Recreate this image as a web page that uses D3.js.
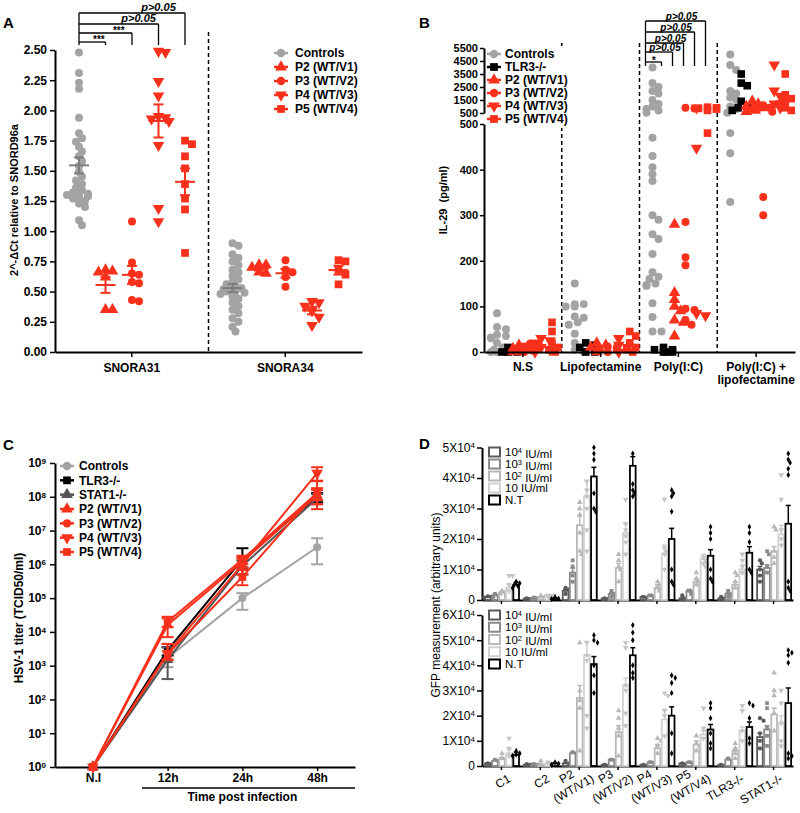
<!DOCTYPE html>
<html><head><meta charset="utf-8">
<script src="https://cdn.jsdelivr.net/npm/d3@7/dist/d3.min.js"></script>
<style>
html,body{margin:0;padding:0;background:#fff;}
svg text{font-family:"Liberation Sans",Arial,Helvetica,sans-serif;fill:#000;}
</style></head><body>
<svg id="fig" width="800" height="813"></svg>
<script>
// ================= Panel A data =================
const aCategories = ["SNORA31", "SNORA34"];
const aGroups = ["Controls", "P2 (WT/V1)", "P3 (WT/V2)", "P4 (WT/V3)", "P5 (WT/V4)"];
const aTicks = [0, 0.25, 0.5, 0.75, 1.0, 1.25, 1.5, 1.75, 2.0, 2.25, 2.5];
const aSNORA31 = [
  [2.48,2.31,2.23,2.18,1.94,1.81,1.77,1.74,1.70,1.66,1.62,1.58,1.54,1.49,1.45,1.42,1.39,1.36,1.34,1.32,1.31,1.30,1.30,1.29,1.28,1.27,1.25,1.23,1.20,1.09,1.05],
  [0.68,0.67,0.66,0.62,0.35,0.35],
  [1.08,0.74,0.65,0.64,0.58,0.57,0.43,0.42],
  [2.49,2.48,2.24,2.12,1.95,1.94,1.93,1.91,1.71,1.19,1.08],
  [1.75,1.72,1.62,1.52,1.39,1.27,1.18,0.82]
];
const aSNORA34 = [
  [0.90,0.88,0.81,0.78,0.75,0.72,0.68,0.66,0.63,0.60,0.58,0.56,0.54,0.53,0.52,0.52,0.51,0.50,0.50,0.49,0.48,0.46,0.44,0.41,0.38,0.35,0.32,0.28,0.25,0.21,0.17],
  [0.72,0.72,0.70,0.66,0.65],
  [0.76,0.68,0.66,0.62,0.54],
  [0.42,0.41,0.38,0.34,0.29,0.22],
  [0.76,0.75,0.68,0.64,0.56]
];
const aSigLabels = ["***", "***", "p>0.05", "p>0.05"];

// ================= Panel B data (pg/ml) =================
const bCategories = ["N.S", "Lipofectamine", "Poly(I:C)", "Poly(I:C) + lipofectamine"];
const bGroups = ["Controls", "TLR3-/-", "P2 (WT/V1)", "P3 (WT/V2)", "P4 (WT/V3)", "P5 (WT/V4)"];
const bTicksLow = [0, 100, 200, 300, 400, 500];
const bTicksHigh = [500, 1500, 2500, 3500, 4500, 5500];
const bNS = [
  [85,55,50,38,35,32,30,20,10,5,0,0,0],
  [0,0,5,10,0],
  [0,5,8,10,15,0,2],
  [0,5,10,12,15,18,3],
  [0,5,10,20,30,25],
  [65,45,20,10,5,0]
];
const bLipo = [
  [150,105,105,100,100,78,75,65,60,40,20,5,0],
  [0,10,20,15,0],
  [0,5,10,15,20],
  [0,5,8,10,12],
  [0,10,30,15],
  [45,35,20,10,5,0]
];
const bPolyIC = [
  [4000,2800,2500,2200,2000,1500,1200,1000,800,700,520,470,430,405,390,375,300,290,258,248,215,175,165,160,150,147,145,107,77,45,45],
  [0,0,5,10,5,0],
  [280,130,115,100,90,70,65,35],
  [285,208,190,95,92,70,60,900,850],
  [900,447,80,85],
  [950,900,850,800,700,480]
];
const bPolyICLipo = [
  [5000,4200,3800,2200,2000,1700,1500,1000,800,520,480,436,329],
  [3500,2800,2600,1400,1000,900,700],
  [1400,1200,1000,900,800,700,600],
  [1100,900,800,600,340,300],
  [4200,2200,1800,1200,900],
  [3500,1900,1600,1400,1200,900,700]
];
const bSigLabels = ["*", "p>0.05", "p>0.05", "p>0.05", "p>0.05"];

// ================= Panel C data (TCID50/ml) =================
const cCategories = ["N.I", "12h", "24h", "48h"];
const cSeries = ["Controls", "TLR3-/-", "STAT1-/-", "P2 (WT/V1)", "P3 (WT/V2)", "P4 (WT/V3)", "P5 (WT/V4)"];
const cMean = [
  [1, 1.7e3, 1.0e5, 3.2e6],
  [1, 2.9e3, 1.4e6, 1.0e8],
  [1, 1.5e3, 9.0e5, 9.0e7],
  [1, 1.6e4, 1.2e6, 1.1e8],
  [1, 2.0e4, 1.4e6, 1.3e8],
  [1, 2.3e3, 1.0e6, 5.0e8],
  [1, 2.2e3, 4.2e5, 1.4e8]
];
const cLow = [
  [1, 9e2, 4.5e4, 1.0e6],
  [1, 2.0e3, 8e5, 7e7],
  [1, 4e2, 5e5, 6e7],
  [1, 7e3, 8e5, 6e7],
  [1, 1.4e4, 1.0e6, 8e7],
  [1, 1.5e3, 5e5, 3e8],
  [1, 1.5e3, 2.4e5, 4.3e7]
];
const cHigh = [
  [1, 2.5e3, 1.4e5, 5.9e6],
  [1, 3.5e3, 3.0e6, 1.3e8],
  [1, 3.5e3, 1.3e6, 1.2e8],
  [1, 2.5e4, 1.6e6, 1.6e8],
  [1, 2.8e4, 1.8e6, 1.8e8],
  [1, 4.4e3, 1.5e6, 7.5e8],
  [1, 4.4e3, 6.8e5, 2.9e8]
];
const cTicks = [1, 1e1, 1e2, 1e3, 1e4, 1e5, 1e6, 1e7, 1e8, 1e9];

// ================= Panel D data (values in units of 10^4) =================
const dGroups = ["C1", "C2", "P2 (WT/V1)", "P3 (WT/V2)", "P4 (WT/V3)", "P5 (WT/V4)", "TLR3-/-", "STAT1-/-"];
const dConcs = ["10^4 IU/ml", "10^3 IU/ml", "10^2 IU/ml", "10 IU/ml", "N.T"];
const dTopTicks = [0, 1, 2, 3, 4, 5];
const dBotTicks = [0, 1, 2, 3, 4, 5, 6];
const dTopMean = [
  [0.10,0.15,0.25,0.40,0.50],
  [0.05,0.07,0.08,0.10,0.05],
  [0.30,0.90,2.45,3.40,4.05],
  [0.05,0.20,1.05,2.20,4.40],
  [0.10,0.15,0.40,1.50,2.00],
  [0.05,0.30,0.60,1.35,1.45],
  [0.05,0.20,0.50,1.00,1.55],
  [1.00,1.05,1.60,2.15,2.50]
];
const dTopSem = [
  [0.02,0.03,0.05,0.10,0.08],
  [0.01,0.01,0.02,0.03,0.02],
  [0.05,0.15,0.30,0.50,0.30],
  [0.01,0.05,0.15,0.30,0.30],
  [0.02,0.03,0.10,0.30,0.35],
  [0.02,0.05,0.10,0.15,0.20],
  [0.02,0.05,0.10,0.15,0.20],
  [0.10,0.10,0.15,0.30,0.60]
];
const dTopPts = [
  [[0.1,0.12,0.08],[0.15,0.2,0.1],[0.3,0.25,0.2],[0.8,0.8,0.5,0.3],[0.6,0.55,0.5,0.45,0.4]],
  [[0.05,0.03],[0.08,0.06],[0.1,0.15],[0.15,0.15,0.05],[0.1,0.05,0.03]],
  [[0.4,0.35,0.2],[1.3,1.1,0.8,0.6],[3.2,3.0,2.8,2.2,1.6,1.5],[3.9,3.6,3.4,3.0,2.3,1.6],[5.0,4.8,4.6,3.5,3.0,2.9]],
  [[0.05,0.03],[0.3,0.2,0.1],[1.5,1.3,1.1,1.0,0.6],[3.3,2.5,2.3,2.1,1.9,1.5],[4.8,3.8,3.6,3.5,3.4]],
  [[0.1,0.05],[0.15,0.1],[0.6,0.5,0.4,0.3],[3.3,1.7,1.6,1.5,1.0],[3.6,3.5,3.4,2.9,1.0,0.6,0.5]],
  [[0.15,0.05],[0.3,0.2],[0.9,0.7,0.6,0.5],[1.4,1.3,1.2,1.1],[2.4,2.2,2.0,1.0,0.7,0.6]],
  [[0.1,0.05],[0.3,0.2,0.1],[0.9,0.8,0.6,0.4],[1.5,1.3,1.1,0.9],[2.4,2.2,1.9,1.0,0.9]],
  [[1.3,1.2,1.0,0.8,0.6],[1.6,1.5,1.1,0.9],[2.4,2.3,1.6,1.4,1.2],[4.1,3.3,2.3,2.0,1.8],[4.8,4.6,4.5,4.3,4.1,0.6,0.4,0.3]]
];
const dBotMean = [
  [0.10,0.20,0.30,0.50,0.45],
  [0.05,0.05,0.05,0.10,0.10],
  [0.10,0.50,2.70,4.40,4.05],
  [0.05,0.25,1.35,3.20,4.40],
  [0.05,0.15,0.70,1.85,2.00],
  [0.10,0.15,0.85,1.25,1.45],
  [0.05,0.25,0.60,1.40,1.55],
  [1.15,1.45,2.05,1.70,2.50]
];
const dBotSem = [
  [0.02,0.03,0.05,0.15,0.10],
  [0.01,0.01,0.02,0.03,0.02],
  [0.03,0.05,0.50,0.55,0.30],
  [0.01,0.03,0.25,0.30,0.30],
  [0.01,0.03,0.15,0.40,0.35],
  [0.02,0.03,0.15,0.15,0.20],
  [0.01,0.05,0.10,0.15,0.20],
  [0.15,0.15,0.25,0.30,0.60]
];
const dBotPts = [
  [[0.1,0.08],[0.2,0.25],[0.3,0.5],[1.1,0.7,0.4],[0.6,0.5,0.45,0.4]],
  [[0.05,0.08],[0.05,0.08],[0.2,0.05],[0.15,0.1],[0.15,0.1,0.05]],
  [[0.2,0.1],[0.55,0.5],[4.9,3.0,2.6,2.3,0.6],[4.9,4.4,4.2,2.0,1.5],[5.2,5.0,4.9,4.0,3.6,2.9]],
  [[0.05],[0.25,0.2],[2.2,1.9,1.5,1.2,0.4],[4.9,4.7,3.2,3.0,2.1,1.6],[5.6,5.3,5.0,4.0,3.7,3.5]],
  [[0.05],[0.15],[1.1,1.0,0.8,0.5],[2.9,2.8,2.2,2.0,1.2],[3.6,3.5,3.3,2.9,1.3,0.5]],
  [[0.1,0.05],[0.15,0.1],[1.2,0.9,0.8,0.6],[2.3,1.5,1.4,1.1],[2.5,2.3,1.9,1.3,0.9,0.7]],
  [[0.05],[0.3,0.2],[0.9,0.7,0.5,0.3],[2.4,2.2,1.4,1.0],[2.5,2.4,1.9,1.1,0.9]],
  [[1.9,1.8,1.3,1.0,0.7],[2.5,2.3,1.5,1.2,0.8],[3.7,3.0,2.8,2.1,1.4],[3.0,2.5,1.7,1.0,0.8],[4.6,4.5,4.4,4.1,0.5,0.4,0.3]]
];

// ================= Helpers =================
const FONT = '"Liberation Sans", Arial, Helvetica, sans-serif';
const RED = "#f9301b", GRAY = "#a3a3a3", DGRAY = "#555555", BLACK = "#000000";
const svg = d3.select("#fig");
const symTypes = {circle: d3.symbolCircle, square: d3.symbolSquare, triangle: d3.symbolTriangle, down: d3.symbolTriangle, diamond: d3.symbolDiamond};
function sym(g, shape, x, y, size, color) {
  return g.append("path").attr("d", d3.symbol(symTypes[shape], size)())
    .attr("transform", `translate(${x},${y})${shape === "down" ? " rotate(180)" : ""}`)
    .attr("fill", color);
}
function styleAxis(sel, fs, weight) {
  sel.select(".domain").attr("stroke", "#000").attr("stroke-width", 2);
  sel.selectAll(".tick line").attr("stroke", "#000").attr("stroke-width", 1.5);
  sel.selectAll(".tick text").attr("fill", "#000").style("font-size", fs + "px")
    .style("font-weight", weight).style("font-family", FONT);
}
function swarm(vals, yS, cx, minD, step, maxOff) {
  const pts = vals.map(v => ({v, y: yS(v)})).sort((a, b) => a.y - b.y);
  const placed = [];
  pts.forEach((p, i) => {
    let best = null;
    for (let k = 0; k < 60; k++) {
      const off = (k === 0 ? 0 : (k % 2 ? 1 : -1) * Math.ceil(k / 2)) * step;
      if (Math.abs(off) > maxOff) break;
      if (placed.every(q => (q.x - (cx + off)) ** 2 + (q.y - p.y) ** 2 >= minD * minD)) { best = cx + off; break; }
    }
    if (best === null) best = cx + ((i % 2) ? 1 : -1) * ((i % 4) * step);
    p.x = best; placed.push(p);
  });
  return placed;
}
function legendItem(g, x, y, shape, color, label, size, tx) {
  g.append("line").attr("x1", x - 7).attr("x2", x + 7).attr("y1", y).attr("y2", y)
    .attr("stroke", color).attr("stroke-width", 2.5);
  sym(g, shape, x, y, size, color);
  g.append("text").attr("x", x + tx).attr("y", y).attr("dy", "0.36em")
    .style("font-size", "12px").style("font-weight", "bold").text(label);
}
function panelLabel(t, x, y) {
  svg.append("text").attr("x", x).attr("y", y).style("font-size", "15px").style("font-weight", "bold").text(t);
}
const groupShapes = {"Controls": "circle", "TLR3-/-": "square", "STAT1-/-": "triangle",
  "P2 (WT/V1)": "triangle", "P3 (WT/V2)": "circle", "P4 (WT/V3)": "down", "P5 (WT/V4)": "square"};
const groupColors = {"Controls": GRAY, "TLR3-/-": BLACK, "STAT1-/-": DGRAY,
  "P2 (WT/V1)": RED, "P3 (WT/V2)": RED, "P4 (WT/V3)": RED, "P5 (WT/V4)": RED};

// ================= Panel A =================
(function () {
  const g = svg.append("g");
  const xA = d3.scaleBand().domain(aCategories).range([55, 362]);
  const xAg = d3.scalePoint().domain(aGroups).range([24, 130]);
  const yA = d3.scaleLinear().domain([0, 2.5]).range([352, 50]);
  g.append("g").attr("transform", "translate(55,0)")
    .call(d3.axisLeft(yA).tickValues(aTicks).tickFormat(d3.format(".2f")).tickSize(5).tickSizeOuter(0).tickPadding(3))
    .call(s => styleAxis(s, 12, "bold"));
  g.append("g").attr("transform", "translate(0,352)")
    .call(d3.axisBottom(xA).tickSize(5).tickSizeOuter(0).tickPadding(6))
    .call(s => styleAxis(s, 12, "bold"));
  g.append("line").attr("x1", xA("SNORA34")).attr("x2", xA("SNORA34")).attr("y1", 32).attr("y2", 352)
    .attr("stroke", "#000").attr("stroke-width", 1.5).attr("stroke-dasharray", "4,3");
  const sizes = {circle: 50, triangle: 58, down: 58, square: 60};
  const stats = [];
  aCategories.forEach((cat, ci) => {
    const data = ci === 0 ? aSNORA31 : aSNORA34;
    aGroups.forEach((grp, gi) => {
      const cx = xA(cat) + xAg(grp);
      const shape = groupShapes[grp], color = groupColors[grp];
      const isCtrl = gi === 0;
      swarm(data[gi], yA, cx, isCtrl ? 5.5 : 7, isCtrl ? 3 : 3.5, isCtrl ? 13 : 12)
        .forEach(p => sym(g, shape, p.x, p.y, sizes[shape], color));
      const m = d3.mean(data[gi]), se = d3.deviation(data[gi]) / Math.sqrt(data[gi].length);
      stats.push({cx, m, se, color: isCtrl ? "#7d7d7d" : RED});
    });
  });
  stats.forEach(s => {
    g.append("line").attr("x1", s.cx - 10).attr("x2", s.cx + 10).attr("y1", yA(s.m)).attr("y2", yA(s.m)).attr("stroke", s.color).attr("stroke-width", 2);
    g.append("line").attr("x1", s.cx).attr("x2", s.cx).attr("y1", yA(s.m - s.se)).attr("y2", yA(s.m + s.se)).attr("stroke", s.color).attr("stroke-width", 2);
    [s.m - s.se, s.m + s.se].forEach(v => g.append("line").attr("x1", s.cx - 5).attr("x2", s.cx + 5).attr("y1", yA(v)).attr("y2", yA(v)).attr("stroke", s.color).attr("stroke-width", 2));
  });
  const levels = [42, 33, 24, 13];
  const x0 = xA("SNORA31") + xAg("Controls");
  g.append("line").attr("x1", x0).attr("x2", x0).attr("y1", levels[3]).attr("y2", 45).attr("stroke", "#000").attr("stroke-width", 1.3);
  aSigLabels.forEach((lab, i) => {
    const x1 = xA("SNORA31") + xAg(aGroups[i + 1]);
    g.append("line").attr("x1", x0).attr("x2", x1).attr("y1", levels[i]).attr("y2", levels[i]).attr("stroke", "#000").attr("stroke-width", 1.3);
    g.append("line").attr("x1", x1).attr("x2", x1).attr("y1", levels[i]).attr("y2", 45).attr("stroke", "#000").attr("stroke-width", 1.3);
    const tx = ((x0 + x1) / 2 + x1) / 2;
    g.append("text").attr("x", tx).attr("y", levels[i] - (lab === "***" ? -1 : 2)).attr("text-anchor", "middle")
      .style("font-size", lab === "***" ? "10px" : "11px").style("font-weight", "bold")
      .style("font-style", lab === "***" ? "normal" : "italic").text(lab);
  });
  const ly = d3.scalePoint().domain(aGroups).range([53, 109]);
  aGroups.forEach(grp => legendItem(g, 281, ly(grp), groupShapes[grp], groupColors[grp], grp, groupShapes[grp] === "circle" ? 55 : 60, 14));
  g.append("text").attr("transform", "translate(18,200) rotate(-90)").attr("text-anchor", "middle")
    .style("font-size", "11px").style("font-weight", "bold").text("2^-ΔCt relative to SNORD96a");
  panelLabel("A", 3, 28);
})();

// ================= Panel B =================
(function () {
  const g = svg.append("g");
  const xB = d3.scaleBand().domain(bCategories).range([484, 795]);
  const xBg = d3.scalePoint().domain(bGroups).range([13, 68]);
  const yLow = d3.scaleLinear().domain([0, 500]).range([352, 124]);
  const yHigh = d3.scaleLinear().domain([500, 5500]).range([113, 48]);
  const yB = v => v >= 500 ? yHigh(v) : yLow(v);
  bCategories.slice(1).forEach(c => {
    g.append("line").attr("x1", xB(c)).attr("x2", xB(c)).attr("y1", 43).attr("y2", 352)
      .attr("stroke", "#000").attr("stroke-width", 1.5).attr("stroke-dasharray", "4,3");
  });
  const dataSets = [bNS, bLipo, bPolyIC, bPolyICLipo];
  bCategories.forEach((cat, ci) => {
    bGroups.forEach((grp, gi) => {
      const cx = xB(cat) + xBg(grp);
      const shape = groupShapes[grp];
      swarm(dataSets[ci][gi], yB, cx, 6.5, 3, 11)
        .forEach(p => sym(g, shape, p.x, p.y, shape === "circle" ? 50 : 58, groupColors[grp]));
    });
  });
  g.append("g").attr("transform", "translate(484,0)")
    .call(d3.axisLeft(yHigh).tickValues(bTicksHigh).tickFormat(d3.format("d")).tickSize(4).tickSizeOuter(0).tickPadding(2))
    .call(s => styleAxis(s, 11, "bold"));
  g.append("g").attr("transform", "translate(484,0)")
    .call(d3.axisLeft(yLow).tickValues(bTicksLow).tickFormat(d3.format("d")).tickSize(4).tickSizeOuter(0).tickPadding(2))
    .call(s => styleAxis(s, 11, "bold"));
  const xa = g.append("g").attr("transform", "translate(0,352)")
    .call(d3.axisBottom(xB).tickSize(5).tickSizeOuter(0).tickPadding(5))
    .call(s => styleAxis(s, 12, "bold"));
  xa.selectAll(".tick text").each(function (d) {
    if (d.includes(" + ")) {
      const t = d3.select(this); const parts = d.split(" + ");
      t.text(null);
      t.append("tspan").attr("x", 0).text(parts[0] + " +");
      t.append("tspan").attr("x", 0).attr("dy", "1.1em").text(parts[1]);
    }
  });
  const levels = [62, 52, 43, 32, 21];
  const x0 = xB("Poly(I:C)") + xBg("Controls") - 7;
  g.append("line").attr("x1", x0).attr("x2", x0).attr("y1", levels[4]).attr("y2", 66).attr("stroke", "#000").attr("stroke-width", 1.3);
  bSigLabels.forEach((lab, i) => {
    const x1 = xB("Poly(I:C)") + xBg(bGroups[i + 1]) - 2;
    g.append("line").attr("x1", x0).attr("x2", x1).attr("y1", levels[i]).attr("y2", levels[i]).attr("stroke", "#000").attr("stroke-width", 1.3);
    g.append("line").attr("x1", x1).attr("x2", x1).attr("y1", levels[i]).attr("y2", 66).attr("stroke", "#000").attr("stroke-width", 1.3);
    g.append("text").attr("x", (x0 + x1) / 2 + (lab === "*" ? 0 : 6)).attr("y", levels[i] - (lab === "*" ? -2 : 1)).attr("text-anchor", "middle")
      .style("font-size", "10px").style("font-weight", "bold").style("font-style", "italic").text(lab);
  });
  g.append("rect").attr("x", 486).attr("y", 46).attr("width", 86).attr("height", 82).attr("fill", "#fff");
  const ly = d3.scalePoint().domain(bGroups).range([54, 119]);
  bGroups.forEach(grp => legendItem(g, 494, ly(grp), groupShapes[grp], groupColors[grp], grp, groupShapes[grp] === "circle" ? 55 : 60, 11));
  g.append("text").attr("transform", "translate(447,200) rotate(-90)").attr("text-anchor", "middle")
    .style("font-size", "11px").style("font-weight", "bold").text("IL-29\u00a0\u00a0(pg/ml)");
  panelLabel("B", 419, 28);
})();

// ================= Panel C =================
(function () {
  const g = svg.append("g");
  const xC = d3.scalePoint().domain(cCategories).range([55, 355]).padding(0.507);
  const yC = d3.scaleLog().domain([1, 1e9]).range([767, 463]);
  const ya = g.append("g").attr("transform", "translate(55,0)")
    .call(d3.axisLeft(yC).tickValues(cTicks).tickFormat(d => "10").tickSize(5).tickSizeOuter(0).tickPadding(4))
    .call(s => styleAxis(s, 12, "bold"));
  ya.selectAll(".tick text").each(function (d) {
    d3.select(this).append("tspan").attr("dy", "-0.45em").style("font-size", "8px").text(Math.round(Math.log10(d)));
  });
  g.append("g").attr("transform", "translate(0,767)")
    .call(d3.axisBottom(xC).tickSize(4).tickSizeOuter(0).tickPadding(2))
    .call(s => styleAxis(s, 12, "bold"));
  g.append("line").attr("x1", 142).attr("x2", 355).attr("y1", 788).attr("y2", 788).attr("stroke", "#000").attr("stroke-width", 1.5);
  g.append("text").attr("x", (xC("12h") + xC("48h")) / 2).attr("y", 801).attr("text-anchor", "middle")
    .style("font-size", "12px").style("font-weight", "bold").text("Time post infection");
  const cColors = [GRAY, BLACK, DGRAY, RED, RED, RED, RED];
  const line = d3.line().x((d, i) => xC(cCategories[i])).y(d => yC(d));
  cSeries.forEach((s, si) => {
    const col = cColors[si];
    cCategories.forEach((c, ci) => {
      if (cLow[si][ci] === cHigh[si][ci]) return;
      const x = xC(c);
      g.append("line").attr("x1", x).attr("x2", x).attr("y1", yC(cLow[si][ci])).attr("y2", yC(cHigh[si][ci])).attr("stroke", col).attr("stroke-width", 2);
      [cLow[si][ci], cHigh[si][ci]].forEach(v => g.append("line").attr("x1", x - 6).attr("x2", x + 6).attr("y1", yC(v)).attr("y2", yC(v)).attr("stroke", col).attr("stroke-width", 2));
    });
    g.append("path").datum(cMean[si]).attr("d", line).attr("fill", "none").attr("stroke", col).attr("stroke-width", 2);
    cMean[si].forEach((v, ci) => sym(g, groupShapes[s], xC(cCategories[ci]), yC(v), groupShapes[s] === "circle" ? 50 : 58, col));
  });
  const ly = d3.scalePoint().domain(cSeries).range([466, 552]);
  cSeries.forEach((s, si) => legendItem(g, 67, ly(s), groupShapes[s], cColors[si], s, groupShapes[s] === "circle" ? 55 : 60, 12));
  g.append("text").attr("transform", "translate(23,618) rotate(-90)").attr("text-anchor", "middle")
    .style("font-size", "12px").style("font-weight", "bold").text("HSV-1 titer (TCID50/ml)");
  panelLabel("C", 3, 450);
})();

// ================= Panel D =================
(function () {
  const g = svg.append("g");
  const xD = d3.scaleBand().domain(dGroups).range([482, 793]);
  const xDc = d3.scaleBand().domain(dConcs).range([3, 37]).paddingInner(0.2);
  const dColors = ["#5a5a5a", "#8a8a8a", "#b8b8b8", "#d0d0d0", "#000000"];
  const dShapes = ["circle", "square", "triangle", "down", "diamond"];
  function supLabel(sel, d) {
    sel.text(null);
    if (d === 0) { sel.text("0"); return; }
    sel.append("tspan").text(d + "X10");
    sel.append("tspan").attr("dy", "-0.45em").style("font-size", "8px").text("4");
  }
  function subplot(yS, ticks, means, sems, pts, legendY, showLabels) {
    const y0 = yS(0);
    const ya = g.append("g").attr("transform", "translate(482,0)")
      .call(d3.axisLeft(yS).tickValues(ticks).tickSize(5).tickSizeOuter(0).tickPadding(2))
      .call(s => styleAxis(s, 12, "normal"));
    ya.selectAll(".tick text").each(function (d) { supLabel(d3.select(this), d); });
    g.append("g").attr("transform", `translate(0,${y0})`)
      .call(d3.axisBottom(xD).tickSize(4).tickSizeOuter(0).tickFormat(""))
      .call(s => styleAxis(s, 12, "normal"));
    dGroups.forEach((grp, gi) => {
      dConcs.forEach((c, ci) => {
        const x = xD(grp) + xDc(c), w = xDc.bandwidth(), col = dColors[ci];
        const m = means[gi][ci], se = sems[gi][ci];
        g.append("line").attr("x1", x + w / 2).attr("x2", x + w / 2).attr("y1", yS(m)).attr("y2", yS(m + se)).attr("stroke", col).attr("stroke-width", 1.5);
        g.append("line").attr("x1", x + w / 2 - 2.5).attr("x2", x + w / 2 + 2.5).attr("y1", yS(m + se)).attr("y2", yS(m + se)).attr("stroke", col).attr("stroke-width", 1.5);
        g.append("rect").attr("x", x).attr("y", yS(m)).attr("width", w).attr("height", y0 - yS(m))
          .attr("fill", "#fff").attr("stroke", col).attr("stroke-width", 1.8);
        swarm(pts[gi][ci], yS, x + w / 2, 3.2, 1.8, 5)
          .forEach(p => sym(g, dShapes[ci], p.x, p.y, ci === 4 ? 11 : 14, col === "#d0d0d0" ? "#c4c4c4" : col));
      });
    });
    const ly = d3.scalePoint().domain(dConcs).range(legendY);
    dConcs.forEach((c, ci) => {
      g.append("rect").attr("x", 489).attr("y", ly(c) - 4.5).attr("width", 11).attr("height", 9)
        .attr("fill", "#fff").attr("stroke", dColors[ci]).attr("stroke-width", 2);
      const t = g.append("text").attr("x", 505).attr("y", ly(c)).attr("dy", "0.36em").style("font-size", "11.5px");
      const m = c.match(/^(\d+)\^(\d)(.*)$/);
      if (m) {
        t.append("tspan").text(m[1]);
        t.append("tspan").attr("dy", "-0.4em").style("font-size", "7.5px").text(m[2]);
        t.append("tspan").attr("dy", "0.4em").text(m[3]);
      } else t.text(c);
    });
    if (showLabels) {
      dGroups.forEach(grp => {
        const cx = xD(grp) + xD.bandwidth() / 2;
        const parts = grp.split(" ");
        if (parts.length === 1) {
          g.append("text").attr("transform", `translate(${cx + 10},${y0 + 15}) rotate(-30)`).attr("text-anchor", "end")
            .style("font-size", "12px").text(grp);
        } else {
          const tg = g.append("g").attr("transform", `translate(${cx - 10.5},${y0 + 14}) rotate(-30)`);
          tg.append("text").attr("x", 0).attr("y", 0).attr("text-anchor", "middle").style("font-size", "12px").text(parts[0]);
          tg.append("text").attr("x", 0).attr("y", 14).attr("text-anchor", "middle").style("font-size", "12px").text(parts[1]);
        }
      });
    }
  }
  const yTop = d3.scaleLinear().domain([0, 5]).range([600, 447.5]);
  const yBot = d3.scaleLinear().domain([0, 6]).range([766, 615]);
  subplot(yTop, dTopTicks, dTopMean, dTopSem, dTopPts, [452, 500], false);
  subplot(yBot, dBotTicks, dBotMean, dBotSem, dBotPts, [615, 664], true);
  g.append("text").attr("transform", "translate(440,605) rotate(-90)").attr("text-anchor", "middle")
    .style("font-size", "12px").text("GFP measurement (arbitrary units)");
  panelLabel("D", 419, 449);
})();
</script>
</body></html>
